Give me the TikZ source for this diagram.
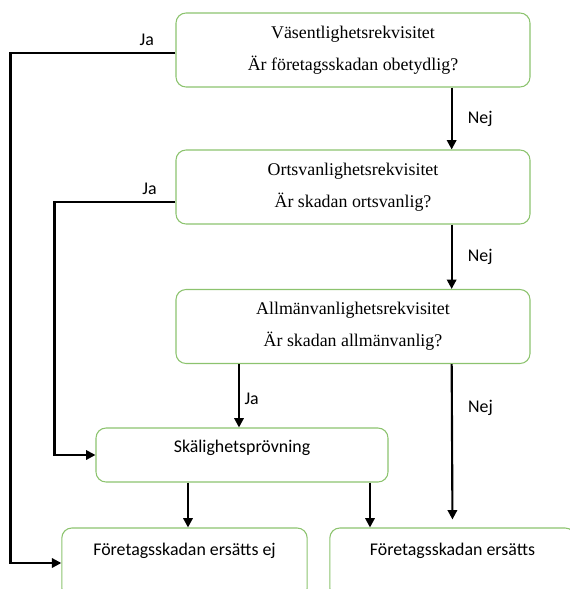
\documentclass[tikz,border=0pt]{standalone}
\usepackage{fontspec}
\setmainfont{Liberation Serif}
\newfontfamily\calibri{Carlito}
\usepackage{tikz}
\usetikzlibrary{arrows.meta,positioning}

\definecolor{boxgreen}{RGB}{140,195,110}

\tikzset{
  krav/.style={draw=boxgreen,line width=0.8pt,rounded corners=7.5pt,
               minimum width=265.5pt,minimum height=55.5pt,align=center,
               font=\fontsize{13.4}{16}\selectfont},
  utfall/.style={draw=boxgreen,line width=0.8pt,rounded corners=7.5pt,
               minimum height=52.5pt,text depth=20pt,
               font=\calibri\fontsize{13.4}{16}\selectfont},
  pil/.style={line width=1.6pt,-{Triangle[length=7pt,width=7pt]}},
  svar/.style={font=\calibri\fontsize{13.4}{16}\selectfont}
}

\begin{document}
\begin{tikzpicture}[x=0.75pt,y=-0.75pt]
\useasboundingbox (0,0) rectangle (570,589);
\clip (0,0) rectangle (570,589);
% rekvisiten
\node[krav] (vasent) at (353,50) {V\"asentlighetsrekvisitet\\[8pt]\"Ar f\"oretagsskadan obetydlig?};
\node[krav] (orts) at (353,187) {Ortsvanlighetsrekvisitet\\[8pt]\"Ar skadan ortsvanlig?};
\node[krav] (allman) at (353,326.5) {Allm\"anvanlighetsrekvisitet\\[8pt]\"Ar skadan allm\"anvanlig?};
\node[utfall,minimum width=219pt,minimum height=40.5pt,text depth=13pt] (skalig) at (242,455) {Sk\"alighetspr\"ovning};
% utfall, nederkanten skuren
\node[utfall,minimum width=184pt] (ejersatt) at (184.5,563) {F\"oretagsskadan ers\"atts ej};
\node[utfall,minimum width=184pt] (ersatt) at (452.5,563) {F\"oretagsskadan ers\"atts};
% Ja
\draw[pil] ([yshift=-2pt]vasent.west) node[svar,above left=1pt and 12pt] {Ja}
      -- ++(-165,0) |- (ejersatt.west);
\draw[pil] ([yshift=-11pt]orts.west) node[svar,above left=1pt and 10pt] {Ja}
      -- ++(-121,0) |- (skalig.west);
\draw[pil] ([xshift=-85.5pt]allman.south) -- ([xshift=-85.5pt]allman.south |- skalig.north)
      node[svar,right,pos=0.55] {Ja};
% Nej
\draw[pil] ([xshift=74pt]vasent.south) -- ([xshift=74pt]orts.north)
      node[svar,right=8pt,midway] {Nej};
\draw[pil] ([xshift=74pt]orts.south) -- ([xshift=74pt]allman.north)
      node[svar,right=8pt,midway] {Nej};
\draw[pil,shorten >=6pt] ([xshift=74pt]allman.south) -- (ersatt.north)
      node[svar,right=8pt,pos=0.27] {Nej};
% efter skälighetsprövningen
\draw[pil] ([xshift=-40.5pt]skalig.south) -- ([xshift=-40.5pt]skalig.south |- ejersatt.north);
\draw[pil] ([xshift=96pt]skalig.south) -- ([xshift=96pt]skalig.south |- ersatt.north);
\end{tikzpicture}
\end{document}
